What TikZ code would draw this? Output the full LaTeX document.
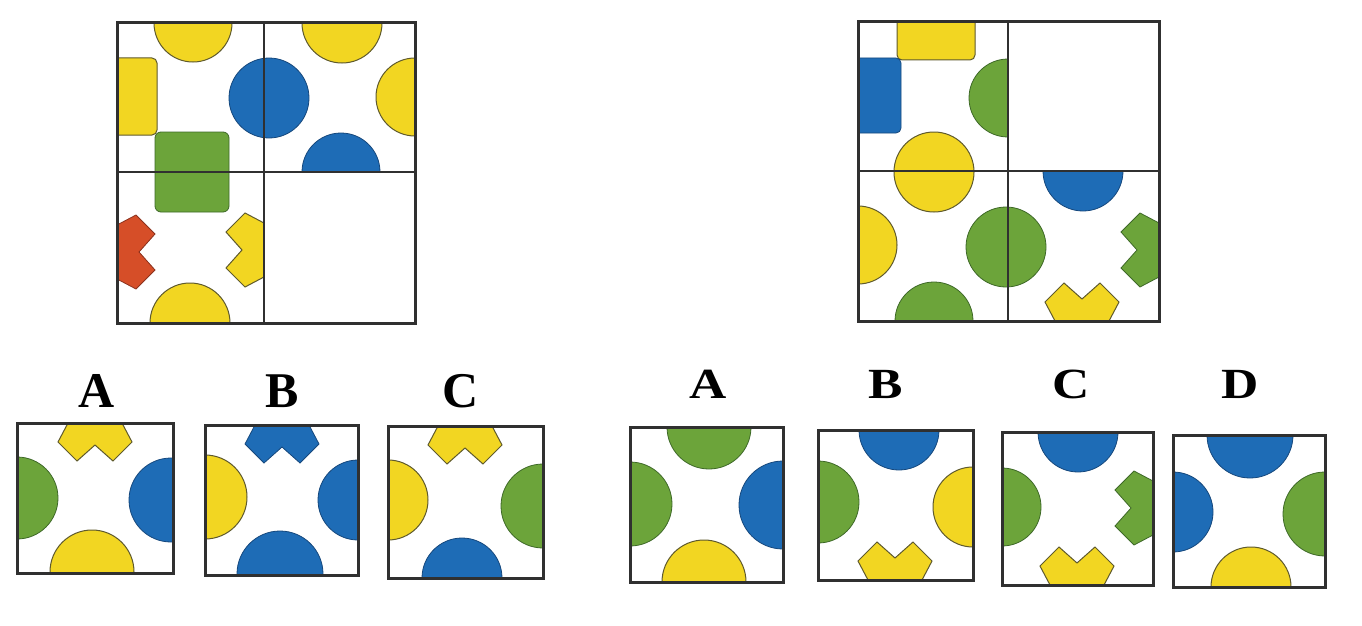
\documentclass[tikz,border=0pt]{standalone}
\usepackage{fontspec}
\setmainfont{Liberation Serif}
\definecolor{ylw}{RGB}{242,214,34}
\definecolor{ylwo}{RGB}{95,90,45}
\definecolor{blu}{RGB}{30,108,182}
\definecolor{bluo}{RGB}{22,72,125}
\definecolor{grn}{RGB}{108,164,58}
\definecolor{grno}{RGB}{62,105,40}
\definecolor{rd}{RGB}{214,78,40}
\definecolor{rdo}{RGB}{140,50,30}
\definecolor{frame}{RGB}{48,48,48}
\newcommand\chev[4]{\draw[#1,shift={(#2,#3)},rotate=#4] (-27,0) -- (-37,19) -- (-18,38) -- (0,22) -- (18,38) -- (37,19) -- (27,0) -- cycle;}
\begin{document}
\begin{tikzpicture}[x=1pt,y=-1pt,
  Y/.style={fill=ylw,draw=ylwo,line width=1pt},
  B/.style={fill=blu,draw=bluo,line width=0.8pt},
  G/.style={fill=grn,draw=grno,line width=0.8pt},
  R/.style={fill=rd,draw=rdo,line width=0.8pt},
  frm/.style={draw=frame,line width=3pt},
  gridln/.style={draw=frame,line width=1.8pt},
  lblL/.style={font=\bfseries\fontsize{50}{50}\selectfont,inner sep=0pt},
  lblR/.style={font=\bfseries\fontsize{43}{43}\selectfont,inner sep=0pt,xscale=1.2}]
\useasboundingbox (0,0) rectangle (1362,626);
\fill[white] (0,0) rectangle (1362,626);

% ---------- left big grid ----------
\begin{scope}
\clip (117,23) rectangle (415,323);
\draw[Y] (193,23) circle (39);
\draw[Y,rounded corners=5pt] (108,58) rectangle (157,135);
\draw[Y] (342,23) circle (40);
\draw[Y] (415,97) circle (39);
\draw[Y] (190,323) circle (40);
\end{scope}
\begin{scope}
\clip (264,23) rectangle (415,172);
\draw[B] (341,172) circle (39);
\end{scope}
\draw[B] (269,98) circle (40);
\draw[G,rounded corners=6pt] (155,132) rectangle (229,212);
\chev{R}{117}{252}{90}
\chev{Y}{264}{250}{-90}
\draw[gridln] (264,23) -- (264,323);
\draw[gridln] (117,172) -- (415,172);
\draw[frm] (117,23) rectangle (415,323);

% ---------- right big grid ----------
\begin{scope}
\clip (858,22) rectangle (1159,321);
\draw[Y,rounded corners=5pt] (897,12) rectangle (975,60);
\draw[B,rounded corners=5pt] (848,58) rectangle (901,133);
\draw[Y] (858,245) circle (39);
\draw[G] (934,321) circle (39);
\end{scope}
\begin{scope}
\clip (858,22) rectangle (1008,171);
\draw[G] (1008,98) circle (39);
\end{scope}
\begin{scope}
\clip (1008,171) rectangle (1159,321);
\draw[B] (1083,171) circle (40);
\end{scope}
\draw[Y] (934,172) circle (40);
\draw[G] (1006,247) circle (40);
\chev{G}{1159}{250}{-90}
\chev{Y}{1082}{321}{180}
\draw[gridln] (1008,22) -- (1008,321);
\draw[gridln] (858,171) -- (1159,171);
\draw[frm] (858,22) rectangle (1159,321);

% ---------- left options ----------
\node[lblL] (la) at (97,391) {A};
\node[lblL] (lb) at (282,391) {B};
\node[lblL] (lc) at (461,391) {C};

\begin{scope}
\clip (17,423) rectangle (173,573);
\draw[G] (17,498) circle (41);
\draw[B] (171,500) circle (42);
\draw[Y] (92,572) circle (42);
\end{scope}
\chev{Y}{95}{423}{0}
\draw[frm] (17,423) rectangle (173,573);

\begin{scope}
\clip (205,425) rectangle (358,575);
\draw[Y] (205,497) circle (42);
\draw[B] (358,500) circle (40);
\draw[B] (280,574) circle (43);
\end{scope}
\chev{B}{282}{425}{0}
\draw[frm] (205,425) rectangle (358,575);

\begin{scope}
\clip (388,426) rectangle (543,578);
\draw[Y] (388,500) circle (40);
\draw[G] (543,506) circle (42);
\draw[B] (462,578) circle (40);
\end{scope}
\chev{Y}{465}{426}{0}
\draw[frm] (388,426) rectangle (543,578);

% ---------- right options ----------
\node[lblR] (ra) at (708,384) {A};
\node[lblR] (rb) at (886,384) {B};
\node[lblR] (rc) at (1071,384) {C};
\node[lblR] (rd) at (1240,384) {D};

\begin{scope}
\clip (630,427) rectangle (783,582);
\draw[G] (709,427) circle (42);
\draw[G] (630,504) circle (42);
\draw[B] (783,505) circle (44);
\draw[Y] (704,582) circle (42);
\end{scope}
\draw[frm] (630,427) rectangle (783,582);

\begin{scope}
\clip (818,430) rectangle (973,580);
\draw[B] (899,430) circle (40);
\draw[G] (818,502) circle (41);
\draw[Y] (973,507) circle (40);
\end{scope}
\chev{Y}{895}{580}{180}
\draw[frm] (818,430) rectangle (973,580);

\begin{scope}
\clip (1002,432) rectangle (1153,585);
\draw[B] (1078,432) circle (40);
\draw[G] (1002,507) circle (39);
\end{scope}
\chev{G}{1153}{508}{-90}
\chev{Y}{1077}{585}{180}
\draw[frm] (1002,432) rectangle (1153,585);

\begin{scope}
\clip (1173,435) rectangle (1325,587);
\draw[B] (1250,435) circle (43);
\draw[B] (1173,512) circle (40);
\draw[G] (1325,514) circle (42);
\draw[Y] (1251,587) circle (40);
\end{scope}
\draw[frm] (1173,435) rectangle (1325,587);
\end{tikzpicture}
\end{document}
